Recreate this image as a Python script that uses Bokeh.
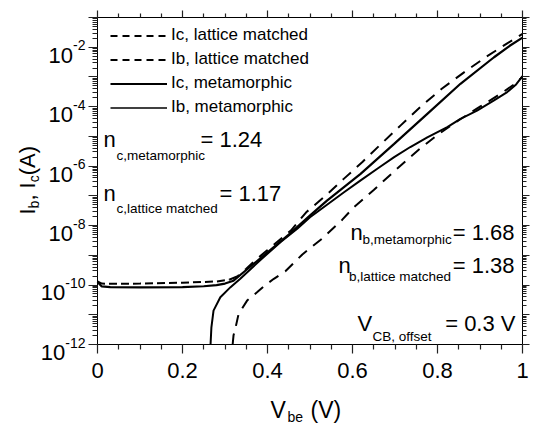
import math
from bokeh.plotting import figure
from bokeh.models import (Range1d, FixedTicker, LinearAxis, LogAxis, Label,
                          Legend, LegendItem, CustomJSTickFormatter)
from bokeh.embed import file_html
from bokeh.resources import INLINE

FONT = "Liberation Sans"

# ---------------- data ----------------
vbe_ic_lm = [0.0, 0.01, 0.05, 0.10, 0.20, 0.28, 0.31, 0.33, 0.35, 0.375, 0.40,
             0.431, 0.455, 0.491, 0.54, 0.58, 0.624, 0.662, 0.714, 0.762, 0.81,
             0.86, 0.911, 0.964, 1.0]
ic_lm = [1.32e-10, 1.12e-10, 1.10e-10, 1.12e-10, 1.20e-10, 1.32e-10, 1.51e-10,
         2.0e-10, 3.55e-10, 7.6e-10, 1.51e-9, 3.55e-9, 6.8e-9, 2.8e-8, 1.12e-7,
         3.8e-7, 1.41e-6, 4.7e-6, 2.4e-5, 1.05e-4, 4.0e-4, 1.35e-3, 4.4e-3,
         1.35e-2, 2.8e-2]

vbe_ib_lm = [0.318, 0.32, 0.325, 0.332, 0.352, 0.376, 0.395, 0.415, 0.442, 0.482,
             0.529, 0.576, 0.602, 0.65, 0.70, 0.755, 0.80, 0.85, 0.90, 0.95,
             0.98, 1.0]
ib_lm = [1.0e-12, 2.0e-12, 3.8e-12, 1.07e-11, 3.0e-11, 5.8e-11, 1.0e-10, 1.62e-10,
         2.9e-10, 1.07e-9, 3.7e-9, 1.58e-8, 4.0e-8, 1.58e-7, 7.1e-7, 3.5e-6,
         1.12e-5, 3.5e-5, 1.0e-4, 2.8e-4, 5.6e-4, 1.0e-3]

vbe_ic_met = [0.0, 0.01, 0.03, 0.10, 0.20, 0.25, 0.28, 0.30, 0.32, 0.35, 0.40,
              0.45, 0.501, 0.54, 0.619, 0.698, 0.776, 0.854, 0.933, 0.97, 1.0]
ic_met = [1.26e-10, 9.0e-11, 8.5e-11, 8.3e-11, 8.5e-11, 9.1e-11, 1.0e-10, 1.12e-10,
          1.4e-10, 3.2e-10, 1.26e-9, 5.0e-9, 2.24e-8, 6.9e-8, 5.5e-7, 5.6e-6,
          5.75e-5, 5.9e-4, 4.6e-3, 1.12e-2, 2.1e-2]

vbe_ib_met = [0.266, 0.268, 0.273, 0.289, 0.313, 0.336, 0.384, 0.431, 0.47, 0.50,
              0.54, 0.58, 0.62, 0.66, 0.698, 0.736, 0.776, 0.823, 0.854, 0.893,
              0.933, 0.964, 0.985, 1.0]
ib_met = [1.0e-12, 3.8e-12, 1.38e-11, 3.9e-11, 8.5e-11, 1.62e-10, 7.1e-10, 2.8e-9,
          7.9e-9, 1.9e-8, 5.0e-8, 1.32e-7, 3.4e-7, 8.5e-7, 2.0e-6, 4.4e-6, 9.3e-6,
          2.04e-5, 3.9e-5, 7.4e-5, 1.62e-4, 3.1e-4, 5.6e-4, 1.07e-3]

legend_labels = ["Ic, lattice matched", "Ib, lattice matched",
                 "Ic, metamorphic", "Ib, metamorphic"]

x_ticks = [0, 0.2, 0.4, 0.6, 0.8, 1]
x_tick_labels = ["0", "0.2", "0.4", "0.6", "0.8", "1"]
x_minor_ticks = [0.05, 0.1, 0.15, 0.25, 0.3, 0.35, 0.45, 0.5, 0.55,
                 0.65, 0.7, 0.75, 0.85, 0.9, 0.95]
y_exponents = [-12, -11, -10, -9, -8, -7, -6, -5, -4, -3, -2, -1]
y_label_exponents = [-12, -10, -8, -6, -4, -2]

# ---------------- layout ----------------
W, H = 533, 424
PX_L, PX_R, PX_T, PX_B = 97, 522, 17, 344   # data box inside the canvas (pixels)
X0, X1 = 0.0, 1.0
E0, E1 = -12, -1

xs = (X1 - X0) / (PX_R - PX_L)              # data per pixel along x
dec = (PX_B - PX_T) / (E1 - E0)              # pixels per decade
x_range = Range1d(X0 - PX_L * xs, X1 + (W - PX_R) * xs)
y_range = Range1d(10 ** (E0 - (H - PX_B) / dec), 10 ** (E1 + PX_T / dec))

p = figure(width=W, height=H, x_range=x_range, y_range=y_range,
           y_axis_type="log", output_backend="svg", toolbar_location=None,
           min_border=0, min_border_left=0, min_border_right=0,
           min_border_top=0, min_border_bottom=0)
p.xgrid.visible = False
p.ygrid.visible = False
p.outline_line_color = None
p.background_fill_color = None
p.border_fill_color = "white"

xt = FixedTicker(ticks=x_ticks, minor_ticks=x_minor_ticks)
yt = FixedTicker(ticks=[10.0 ** e for e in y_exponents],
                 minor_ticks=[k * 10.0 ** e for e in y_exponents[:-1] for k in range(2, 10)])
blank = CustomJSTickFormatter(code="return ''")


def style_axis(ax, major, minor):
    ax.axis_line_color = "black"
    ax.axis_line_width = 1
    ax.major_tick_line_color = "#222222"
    ax.minor_tick_line_color = "#222222"
    ax.major_tick_line_width = 1.2
    ax.minor_tick_line_width = 1.2
    ax.major_tick_out = major
    ax.major_tick_in = 0
    ax.minor_tick_out = minor
    ax.minor_tick_in = 0


xa = p.xaxis[0]
xa.ticker = xt
xa.fixed_location = 10.0 ** E0
xa.bounds = (X0, X1)
xa.major_label_overrides = dict(zip(x_ticks, x_tick_labels))
xa.major_label_text_font = FONT
xa.major_label_text_font_size = "22px"
xa.major_label_text_color = "black"
xa.major_label_standoff = 9
style_axis(xa, 9, 5)

ya = p.yaxis[0]
ya.ticker = yt
ya.fixed_location = X0
ya.bounds = (10.0 ** E0, 10.0 ** E1)
ya.formatter = blank
ya.major_label_text_font_size = "0px"
ya.major_label_standoff = 0
style_axis(ya, 9, 5)

top = LinearAxis(ticker=xt, formatter=blank, major_label_text_font_size="0px",
                 major_label_standoff=0, fixed_location=10.0 ** E1, bounds=(X0, X1))
style_axis(top, 7, 4)
p.add_layout(top, "above")

right = LogAxis(ticker=yt, formatter=blank, major_label_text_font_size="0px",
                major_label_standoff=0, fixed_location=X1,
                bounds=(10.0 ** E0, 10.0 ** E1))
style_axis(right, 7, 4)
p.add_layout(right, "right")

# ---------------- curves ----------------
n_flat = 7  # flat leakage part of Ic (lattice matched) drawn with a finer dash
p.line(vbe_ic_lm[:n_flat], ic_lm[:n_flat], line_color="black", line_width=2,
       line_dash="8 4")
p.line(vbe_ic_lm[n_flat - 1:], ic_lm[n_flat - 1:], line_color="black", line_width=2,
       line_dash="11 8")
p.line(vbe_ib_lm, ib_lm, line_color="black", line_width=2, line_dash="11 8")
p.line(vbe_ic_met, ic_met, line_color="black", line_width=2.2)
p.line(vbe_ib_met, ib_met, line_color="black", line_width=2)

# legend samples (renderers that hold no visible point)
nan = float("nan")
leg_styles = [dict(line_width=1.8, line_dash="7 5"), dict(line_width=1.8, line_dash="7 5"),
              dict(line_width=2.2), dict(line_width=1.3)]
leg_renderers = [p.line(x=[nan], y=[nan], line_color="black", **s) for s in leg_styles]
legend = Legend(items=[LegendItem(label=lab, renderers=[r])
                       for lab, r in zip(legend_labels, leg_renderers)],
                location=(110, 306.5), orientation="vertical", padding=0, margin=0,
                spacing=3, glyph_width=57, glyph_height=21, label_height=21,
                label_standoff=4, label_text_font=FONT, label_text_font_size="17px",
                label_text_color="black", border_line_color=None,
                background_fill_alpha=0)
p.add_layout(legend)


# ---------------- text ----------------
def txt(text, x, y, size, align="left", angle=0.0):
    """x, y in canvas pixels (y downward), alphabetic baseline."""
    p.add_layout(Label(x=x, y=H - y, x_units="screen", y_units="screen",
                       text=text, text_font=FONT, text_font_size=f"{size}px",
                       text_align=align, text_baseline="alphabetic",
                       text_color="black", angle=angle))


# y tick labels: "10" with a superscript exponent
for e in y_label_exponents:
    sup = f"-{abs(e)}"
    w_sup = 14 * (0.333 + 0.556 * len(str(abs(e))))
    p.add_layout(Label(x=X0, y=10.0 ** e, x_offset=-12, y_offset=2, text=sup,
                       text_font=FONT, text_font_size="14px", text_align="right",
                       text_baseline="alphabetic", text_color="black"))
    p.add_layout(Label(x=X0, y=10.0 ** e, x_offset=-12 - w_sup, y_offset=-7.9,
                       text="10", text_font=FONT, text_font_size="22px",
                       text_align="right", text_baseline="alphabetic",
                       text_color="black"))

# axis titles
txt("V", 270, 409, 23)
txt("be", 287, 416, 14)
txt("(V)", 310, 409, 23)

ang = math.pi / 2
y0 = 214
txt("I", 27, y0, 22, angle=ang)
y0 -= 0.278 * 22
txt("b", 33, y0, 14, angle=ang)
y0 -= 0.556 * 14
txt(", I", 27, y0, 22, angle=ang)
y0 -= 0.834 * 22
txt("c", 33, y0, 14, angle=ang)
y0 -= 0.5 * 14
txt(" (A)", 27, y0, 22, angle=ang)

# ideality factors and bias note
txt("n", 103, 139, 22)
txt("c,metamorphic", 116, 155, 13.5)
txt("= 1.24", 200, 139, 22)

txt("n", 103, 193, 22)
txt("c,lattice matched", 116, 208, 13.5)
txt("= 1.17", 219, 193, 22)

txt("n", 350, 232, 22)
txt("b,metamorphic", 362, 239, 13.5)
txt("= 1.68", 514, 232, 22, align="right")

txt("n", 338, 265, 22)
txt("b,lattice matched", 348.5, 276, 13.5)
txt("= 1.38", 514, 265, 22, align="right")

txt("V", 357, 323, 22)
txt("CB, offset", 372, 336, 13.5)
txt("= 0.3 V", 515, 323, 22, align="right")

open("out.html", "w").write(file_html(p, INLINE))
